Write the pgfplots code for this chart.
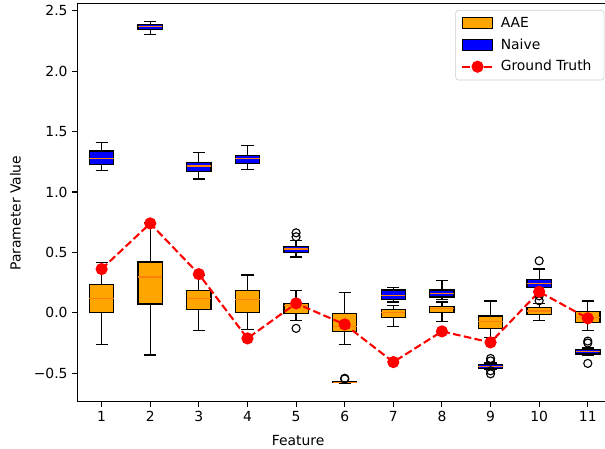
\documentclass[border=0pt]{standalone}
\usepackage{fontspec}
\setmainfont{DejaVu Sans}
\usepackage{pgfplots}
\pgfplotsset{compat=1.18}
\usepgfplotslibrary{statistics}
\definecolor{aae}{HTML}{FFA500}
\definecolor{naive}{HTML}{0000FF}
\definecolor{med}{HTML}{FF7F0E}
\definecolor{gt}{HTML}{FF0000}
\pgfplotsset{
  bx/.style={boxplot prepared={#1}, boxplot/draw direction=y, draw=black, line width=0.9pt, solid,
    mark=o, mark size=2.9pt, mark options={draw=black, line width=0.8pt, fill=none, solid},
    boxplot/box extend=0.5, boxplot/whisker extend=0.25,
    boxplot/every median/.style={draw=med, line width=0.9pt}, forget plot},
  gtleg/.style={legend image code/.code={\draw[##1, mark repeat=2, mark phase=2] plot coordinates {(0pt,0pt) (11pt,0pt) (22pt,0pt)};}},
}
\begin{document}
\begin{tikzpicture}
\useasboundingbox (-55.66pt,-33.3pt) rectangle (379.9pt,289.3pt);
\begin{axis}[name=ax,
  at={(0,0)}, anchor=south west,
  width=385pt, height=286.6pt, scale only axis,
  xmin=0.5, xmax=11.5, ymin=-0.737, ymax=2.558,
  xtick={1,2,3,4,5,6,7,8,9,10,11},
  ytick={-0.5,0,0.5,1,1.5,2,2.5},
  yticklabels={−0.5,0.0,0.5,1.0,1.5,2.0,2.5},
  xtick pos=left, ytick pos=left, tick align=outside,
  major tick length=3.5pt,
  every tick/.style={black, line width=0.8pt},
  axis line style={line width=0.8pt},
  /pgf/number format/assume math mode=true,
  tick label style={font=\fontsize{10}{12}\selectfont},
  every axis x label/.style={at={(axis description cs:0.4128,-0.0962)}, anchor=center},
  every axis y label/.style={at={(axis description cs:-0.1156,0.474)}, rotate=90, anchor=center},
  label style={font=\fontsize{10}{12}\selectfont},
  xlabel={Feature}, ylabel={Parameter Value},
  legend style={at={(1,1)}, anchor=north east, xshift=-5.6pt, yshift=-4.5pt,
    draw=black!20, rounded corners=2pt, fill=white,
    font=\fontsize{10}{12}\selectfont, row sep=2.6pt, inner xsep=4pt, inner ysep=3pt,
    nodes={inner xsep=5pt}},
  legend cell align=left,
]
% AAE
\addplot[bx={draw position=1, lower whisker=-0.262, lower quartile=0.0, median=0.119, upper quartile=0.232, upper whisker=0.417}, fill=aae] coordinates {};
\addplot[bx={draw position=2, lower whisker=-0.35, lower quartile=0.072, median=0.296, upper quartile=0.42, upper whisker=0.745}, fill=aae] coordinates {};
\addplot[bx={draw position=3, lower whisker=-0.146, lower quartile=0.03, median=0.119, upper quartile=0.185, upper whisker=0.31}, fill=aae] coordinates {};
\addplot[bx={draw position=4, lower whisker=-0.137, lower quartile=0.003, median=0.113, upper quartile=0.182, upper whisker=0.312}, fill=aae] coordinates {};
\addplot[bx={draw position=5, lower whisker=-0.066, lower quartile=-0.005, median=0.06, upper quartile=0.075, upper whisker=0.182}, fill=aae] table[row sep=\\, y index=0] {d\\ -0.129\\};
\addplot[bx={draw position=6, lower whisker=-0.265, lower quartile=-0.154, median=-0.116, upper quartile=-0.005, upper whisker=0.169}, fill=aae] coordinates {};
\addplot[bx={draw position=7, lower whisker=-0.116, lower quartile=-0.041, median=0.0, upper quartile=0.028, upper whisker=0.06}, fill=aae] coordinates {};
\addplot[bx={draw position=8, lower whisker=-0.069, lower quartile=0.003, median=0.033, upper quartile=0.05, upper whisker=0.089}, fill=aae] coordinates {};
\addplot[bx={draw position=9, lower whisker=-0.204, lower quartile=-0.129, median=-0.071, upper quartile=-0.027, upper whisker=0.097}, fill=aae] coordinates {};
\addplot[bx={draw position=10, lower whisker=-0.066, lower quartile=-0.013, median=0.014, upper quartile=0.041, upper whisker=0.075}, fill=aae] table[row sep=\\, y index=0] {d\\ 0.10\\ 0.14\\};
\addplot[bx={draw position=11, lower whisker=-0.146, lower quartile=-0.08, median=-0.041, upper quartile=0.008, upper whisker=0.097}, fill=aae] coordinates {};
% Naive
\addplot[bx={draw position=1, lower whisker=1.179, lower quartile=1.228, median=1.275, upper quartile=1.339, upper whisker=1.407}, fill=naive] coordinates {};
\addplot[bx={draw position=2, lower whisker=2.305, lower quartile=2.346, median=2.368, upper quartile=2.387, upper whisker=2.409}, fill=naive] coordinates {};
\addplot[bx={draw position=3, lower whisker=1.107, lower quartile=1.167, median=1.214, upper quartile=1.245, upper whisker=1.328}, fill=naive] coordinates {};
\addplot[bx={draw position=4, lower whisker=1.184, lower quartile=1.237, median=1.28, upper quartile=1.303, upper whisker=1.382}, fill=naive] coordinates {};
\addplot[bx={draw position=5, lower whisker=0.461, lower quartile=0.5, median=0.527, upper quartile=0.546, upper whisker=0.596}, fill=naive] table[row sep=\\, y index=0] {d\\ 0.629\\ 0.662\\};
\addplot[bx={draw position=6, lower whisker=-0.583, lower quartile=-0.578, median=-0.575, upper quartile=-0.571, upper whisker=-0.566}, fill=naive] table[row sep=\\, y index=0] {d\\ -0.548\\ -0.542\\};
\addplot[bx={draw position=7, lower whisker=0.09, lower quartile=0.113, median=0.144, upper quartile=0.188, upper whisker=0.207}, fill=naive] coordinates {};
\addplot[bx={draw position=8, lower whisker=0.111, lower quartile=0.13, median=0.16, upper quartile=0.188, upper whisker=0.265}, fill=naive] coordinates {};
\addplot[bx={draw position=9, lower whisker=-0.47, lower quartile=-0.46, median=-0.444, upper quartile=-0.427, upper whisker=-0.415}, fill=naive] table[row sep=\\, y index=0] {d\\ -0.378\\ -0.398\\ -0.48\\ -0.505\\};
\addplot[bx={draw position=10, lower whisker=0.175, lower quartile=0.207, median=0.243, upper quartile=0.273, upper whisker=0.362}, fill=naive] table[row sep=\\, y index=0] {d\\ 0.43\\};
\addplot[bx={draw position=11, lower whisker=-0.352, lower quartile=-0.342, median=-0.323, upper quartile=-0.303, upper whisker=-0.292}, fill=naive] table[row sep=\\, y index=0] {d\\ -0.234\\ -0.25\\ -0.419\\};
% legend images
\addlegendimage{legend image code/.code={\draw[sharp corners, draw=black, fill=aae, line width=0.8pt] (0pt,-4pt) rectangle (22pt,4pt);}}
\addlegendentry{AAE}
\addlegendimage{legend image code/.code={\draw[sharp corners, draw=black, fill=naive, line width=0.8pt] (0pt,-4pt) rectangle (22pt,4pt);}}
\addlegendentry{Naive}
% Ground truth
\addplot[color=gt, line width=1.5pt, dash pattern=on 5.5pt off 2.4pt, mark=*, mark size=3.6pt, mark options={solid, fill=gt, draw=gt}, gtleg]
coordinates {(1,0.362) (2,0.74) (3,0.32) (4,-0.212) (5,0.078) (6,-0.096) (7,-0.408) (8,-0.154) (9,-0.245) (10,0.174) (11,-0.046)};
\addlegendentry{Ground Truth}
\end{axis}
\end{tikzpicture}
\end{document}
